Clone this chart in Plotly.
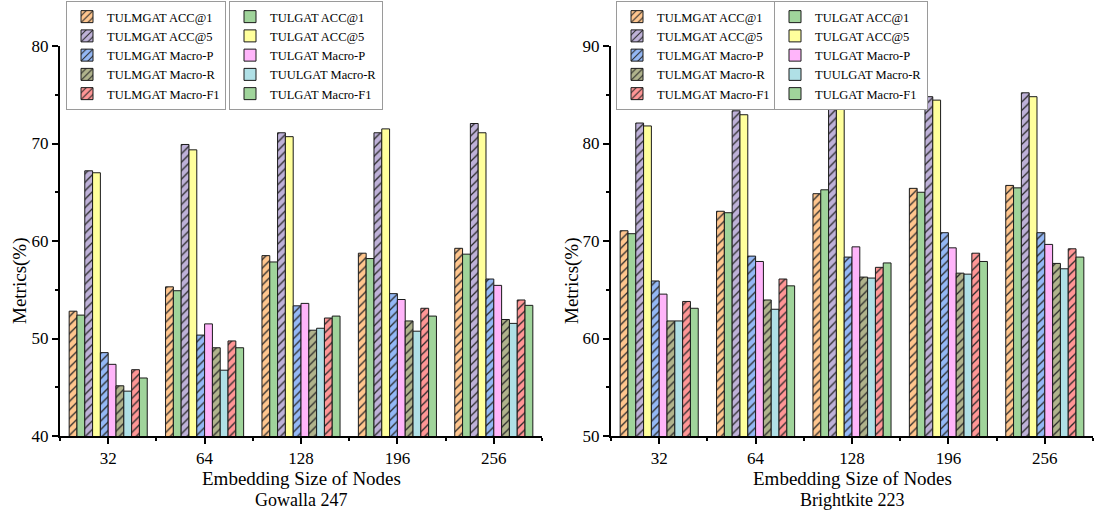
import plotly.graph_objects as go

# Embedding sizes on the category axis
sizes = ["32", "64", "128", "196", "256"]

series_names = [
    "TULMGAT ACC@1", "TULGAT ACC@1",
    "TULMGAT ACC@5", "TULGAT ACC@5",
    "TULMGAT Macro-P", "TULGAT Macro-P",
    "TULMGAT Macro-R", "TUULGAT Macro-R",
    "TULMGAT Macro-F1", "TULGAT Macro-F1",
]

# Gowalla 247 (values in %)
gowalla_mgat_acc1 = [52.8, 55.3, 58.5, 58.75, 59.25]
gowalla_gat_acc1 = [52.4, 54.9, 57.85, 58.2, 58.65]
gowalla_mgat_acc5 = [67.2, 69.9, 71.1, 71.1, 72.05]
gowalla_gat_acc5 = [67.0, 69.35, 70.7, 71.5, 71.1]
gowalla_mgat_p = [48.55, 50.35, 53.35, 54.6, 56.1]
gowalla_gat_p = [47.35, 51.5, 53.6, 54.0, 55.45]
gowalla_mgat_r = [45.15, 49.05, 50.85, 51.8, 51.95]
gowalla_gat_r = [44.6, 46.75, 51.05, 50.75, 51.55]
gowalla_mgat_f1 = [46.8, 49.75, 52.1, 53.1, 53.95]
gowalla_gat_f1 = [45.95, 49.05, 52.3, 52.3, 53.4]

# Brightkite 223 (values in %)
bk_mgat_acc1 = [71.05, 73.05, 74.85, 75.4, 75.7]
bk_gat_acc1 = [70.75, 72.9, 75.25, 75.0, 75.45]
bk_mgat_acc5 = [82.1, 83.35, 84.4, 84.8, 85.2]
bk_gat_acc5 = [81.8, 82.95, 84.8, 84.45, 84.8]
bk_mgat_p = [65.9, 68.45, 68.35, 70.85, 70.85]
bk_gat_p = [64.55, 67.9, 69.4, 69.3, 69.65]
bk_mgat_r = [61.8, 63.95, 66.3, 66.7, 67.7]
bk_gat_r = [61.8, 63.0, 66.2, 66.6, 67.15]
bk_mgat_f1 = [63.8, 66.1, 67.3, 68.75, 69.2]
bk_gat_f1 = [63.1, 65.4, 67.75, 67.9, 68.35]

gowalla_series = [
    gowalla_mgat_acc1, gowalla_gat_acc1, gowalla_mgat_acc5, gowalla_gat_acc5,
    gowalla_mgat_p, gowalla_gat_p, gowalla_mgat_r, gowalla_gat_r,
    gowalla_mgat_f1, gowalla_gat_f1,
]
bk_series = [
    bk_mgat_acc1, bk_gat_acc1, bk_mgat_acc5, bk_gat_acc5,
    bk_mgat_p, bk_gat_p, bk_mgat_r, bk_gat_r,
    bk_mgat_f1, bk_gat_f1,
]

colors = [
    "#FFC68E", "#A0D49B", "#BEB1D8", "#FFFF9C", "#94B8F5",
    "#FFB5FA", "#B0B38C", "#B0E0E6", "#FF9696", "#A0D49B",
]
hatched = [True, False] * 5

FONT = "Liberation Serif"
W, H = 1094, 516

fig = go.Figure()
xpos = list(range(len(sizes)))


def add_chart(series, xa, ya, leg_a, leg_b):
    for i, (name, vals) in enumerate(zip(series_names, series)):
        if hatched[i]:
            pattern = dict(shape="/", fgcolor="#2a2a2a", bgcolor=colors[i],
                           size=6, solidity=0.22, fillmode="replace")
        else:
            pattern = dict(shape="")
        fig.add_trace(go.Bar(
            x=xpos, y=vals, name=name,
            xaxis=xa, yaxis=ya,
            marker=dict(color=colors[i], pattern=pattern,
                        line=dict(color="#1a1a1a", width=1)),
            legend=leg_a if hatched[i] else leg_b,
        ))


add_chart(gowalla_series, "x", "y", "legend", "legend2")
add_chart(bk_series, "x2", "y2", "legend3", "legend4")

ydom = [(H - 436) / H, (H - 46) / H]
xdom1 = [60 / W, 542 / W]
xdom2 = [611 / W, 1093 / W]

xcommon = dict(
    range=[-0.5, 4.5], tickmode="array", tickvals=xpos, ticktext=sizes,
    showline=True, linecolor="black", linewidth=2,
    ticks="outside", ticklen=6, tickwidth=1.5, tickcolor="black",
    minor=dict(tickmode="array", tickvals=[-0.5, 0.5, 1.5, 2.5, 3.5, 4.5],
               ticks="outside", ticklen=3, tickwidth=1.5, tickcolor="black"),
    showgrid=False, zeroline=False,
    tickfont=dict(family=FONT, size=17, color="black"),
    fixedrange=True,
)
ycommon = dict(
    dtick=10, showline=True, linecolor="black", linewidth=2,
    ticks="outside", ticklen=6, tickwidth=1.5, tickcolor="black",
    minor=dict(dtick=5, ticks="outside", ticklen=3, tickwidth=1.5,
               tickcolor="black"),
    showgrid=False, zeroline=False,
    tickfont=dict(family=FONT, size=17, color="black"),
)

legend_common = dict(
    bgcolor="white", bordercolor="#9a9a9a", borderwidth=1,
    font=dict(family=FONT, size=12.5, color="black"),
    xanchor="left", yanchor="top", y=1 - 1 / H,
    traceorder="normal", tracegroupgap=0, itemwidth=30,
)

fig.update_layout(
    width=W, height=H,
    margin=dict(l=0, r=0, t=0, b=0, autoexpand=False),
    paper_bgcolor="white", plot_bgcolor="white",
    barmode="group", bargap=0.19, bargroupgap=0,
    font=dict(family=FONT, color="black"),
    xaxis=dict(domain=xdom1, anchor="y", **xcommon),
    yaxis=dict(domain=ydom, anchor="x", range=[40, 80], **ycommon),
    xaxis2=dict(domain=xdom2, anchor="y2", **xcommon),
    yaxis2=dict(domain=ydom, anchor="x2", range=[50, 90], **ycommon),
    legend=dict(x=66 / W, **legend_common),
    legend2=dict(x=229 / W, **legend_common),
    legend3=dict(x=616 / W, **legend_common),
    legend4=dict(x=774 / W, **legend_common),
    showlegend=True,
)

# Axis titles and panel captions
annotations = [
    dict(text="Metrics(%)", x=20 / W, y=(H - 281) / H, textangle=-90,
         font=dict(size=19)),
    dict(text="Metrics(%)", x=572 / W, y=(H - 281) / H, textangle=-90,
         font=dict(size=19)),
    dict(text="Embedding Size of Nodes", x=301 / W, y=(H - 478) / H,
         font=dict(size=19)),
    dict(text="Gowalla 247", x=301 / W, y=(H - 500) / H, font=dict(size=18)),
    dict(text="Embedding Size of Nodes", x=852 / W, y=(H - 478) / H,
         font=dict(size=19)),
    dict(text="Brightkite 223", x=852 / W, y=(H - 500) / H,
         font=dict(size=18)),
]
for a in annotations:
    a.update(xref="paper", yref="paper", showarrow=False,
             xanchor="center", yanchor="middle")
    a["font"].update(family=FONT, color="black")
fig.update_layout(annotations=annotations)

fig.write_html("out.html")
